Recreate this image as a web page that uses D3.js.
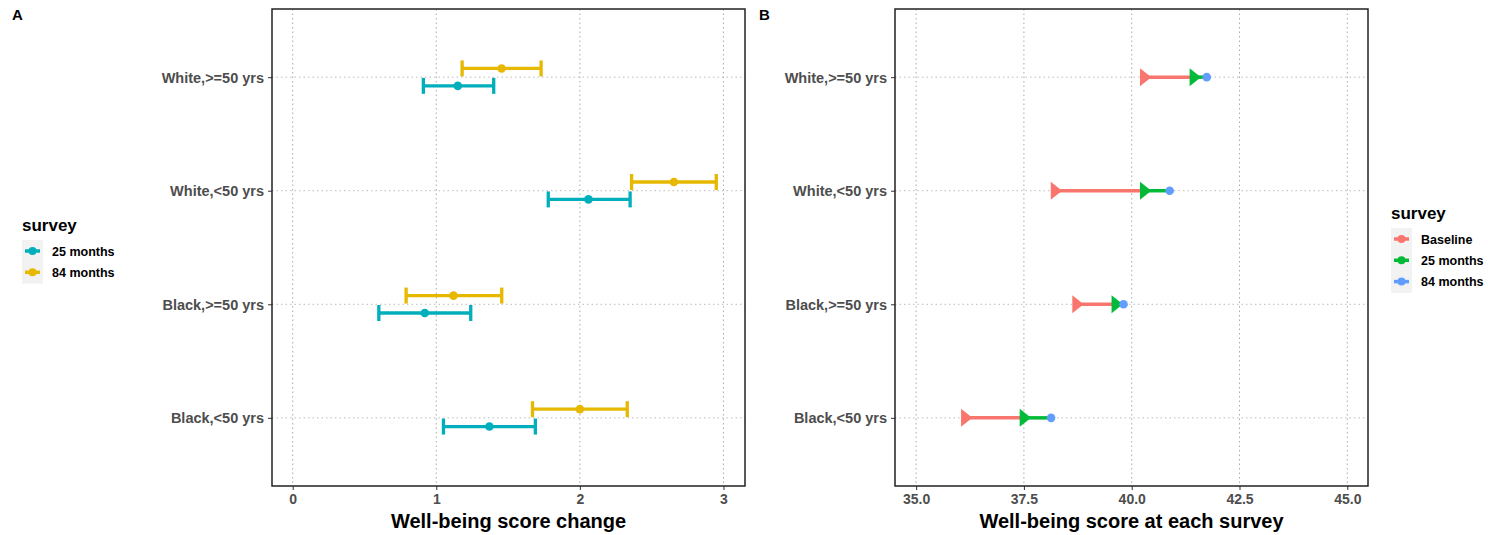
<!DOCTYPE html>
<html>
<head>
<meta charset="utf-8">
<script src="https://cdn.jsdelivr.net/npm/d3@7"></script>
<style>
  body { margin: 0; background: #fff; }
  svg text { font-family: Arial, "Liberation Sans", sans-serif; font-weight: bold; }
  .axis .domain { display: none; }
</style>
</head>
<body>
<div id="container"></div>
<script>
// groups, top to bottom
const groups = ['White,>=50 yrs', 'White,<50 yrs', 'Black,>=50 yrs', 'Black,<50 yrs'];

// panel A: change since baseline (estimate, lower, upper)
const change25 = [1.15, 2.06, 0.92, 1.37];
const change25Lo = [0.91, 1.78, 0.60, 1.05];
const change25Hi = [1.40, 2.35, 1.24, 1.69];
const change84 = [1.455, 2.655, 1.12, 2.00];
const change84Lo = [1.18, 2.36, 0.79, 1.67];
const change84Hi = [1.73, 2.95, 1.456, 2.33];

// panel B: score at each survey
const baseline = [40.28, 38.21, 38.71, 36.13];
const score25 = [41.43, 40.28, 39.62, 37.49];
const score84 = [41.74, 40.88, 39.81, 38.13];

const ticksA = [0, 1, 2, 3];
const ticksB = [35, 37.5, 40, 42.5, 45];

const colA = { m25: '#00AFBB', m84: '#E7B800' };
const colB = ['#F8766D', '#00BA38', '#619CFF'];

const svg = d3.select('#container').append('svg')
    .attr('width', 1488).attr('height', 535);

const plotTop = 9, plotBottom = 486;

// y band: discrete scale with ggplot expansion
const yScale = d3.scalePoint().domain(groups).range([plotTop, plotBottom]).padding(0.6);

function frame(x0, x1, xScale, ticks, fmt, title) {
    const g = svg.append('g');
    // grid
    g.selectAll('.vg').data(ticks).enter().append('line')
        .attr('x1', d => xScale(d)).attr('x2', d => xScale(d))
        .attr('y1', plotTop).attr('y2', plotBottom)
        .attr('stroke', '#aaa').attr('stroke-width', 1).attr('stroke-dasharray', '1.5,3');
    g.selectAll('.hg').data(groups).enter().append('line')
        .attr('x1', x0).attr('x2', x1)
        .attr('y1', d => yScale(d)).attr('y2', d => yScale(d))
        .attr('stroke', '#bbb').attr('stroke-width', 1).attr('stroke-dasharray', '1.5,3');
    // axes
    g.append('g').attr('class', 'axis')
        .attr('transform', 'translate(0,' + plotBottom + ')')
        .call(d3.axisBottom(xScale).tickValues(ticks).tickFormat(fmt).tickSize(4).tickPadding(4))
        .call(a => a.selectAll('text').style('font-size', '14px').attr('fill', '#4d4d4d'))
        .call(a => a.selectAll('line').attr('stroke', '#333'));
    g.append('g').attr('class', 'axis')
        .attr('transform', 'translate(' + x0 + ',0)')
        .call(d3.axisLeft(yScale).tickSize(4).tickPadding(4))
        .call(a => a.selectAll('text').style('font-size', '14.5px').attr('fill', '#4d4d4d').attr('dy', '0.35em'))
        .call(a => a.selectAll('line').attr('stroke', '#333'));
    g.append('text')
        .attr('x', (x0 + x1) / 2).attr('y', 528)
        .attr('text-anchor', 'middle').style('font-size', '20px').attr('fill', '#000')
        .text(title);
    return g;
}

function border(x0, x1) {
    svg.append('rect').attr('x', x0).attr('y', plotTop)
        .attr('width', x1 - x0).attr('height', plotBottom - plotTop)
        .attr('fill', 'none').attr('stroke', '#222').attr('stroke-width', 1.5);
}

// ---------- panel A ----------
const xA = d3.scaleLinear().domain([-0.144, 3.15]).range([272, 745]);
frame(272, 745, xA, ticksA, d3.format('d'), 'Well-being score change');

const rowsA = [];
groups.forEach((g, i) => {
    rowsA.push({ g: g, off: 8.7, est: change25[i], lo: change25Lo[i], hi: change25Hi[i], col: colA.m25 });
    rowsA.push({ g: g, off: -8.7, est: change84[i], lo: change84Lo[i], hi: change84Hi[i], col: colA.m84 });
});
const ebar = svg.append('g').selectAll('g').data(rowsA).enter().append('g');
ebar.append('line')
    .attr('x1', d => xA(d.lo)).attr('x2', d => xA(d.hi))
    .attr('y1', d => yScale(d.g) + d.off).attr('y2', d => yScale(d.g) + d.off)
    .attr('stroke', d => d.col).attr('stroke-width', 3.3);
ebar.append('line')
    .attr('x1', d => xA(d.lo)).attr('x2', d => xA(d.lo))
    .attr('y1', d => yScale(d.g) + d.off - 8).attr('y2', d => yScale(d.g) + d.off + 8)
    .attr('stroke', d => d.col).attr('stroke-width', 3.3);
ebar.append('line')
    .attr('x1', d => xA(d.hi)).attr('x2', d => xA(d.hi))
    .attr('y1', d => yScale(d.g) + d.off - 8).attr('y2', d => yScale(d.g) + d.off + 8)
    .attr('stroke', d => d.col).attr('stroke-width', 3.3);
ebar.append('circle')
    .attr('cx', d => xA(d.est)).attr('cy', d => yScale(d.g) + d.off)
    .attr('r', 4.3).attr('fill', d => d.col);
border(272, 745);

// ---------- panel B ----------
const xB = d3.scaleLinear().domain([34.51, 45.48]).range([895, 1368]);
frame(895, 1368, xB, ticksB, d3.format('.1f'), 'Well-being score at each survey');

const tri = d3.symbol().type(d3.symbolTriangle).size(110);
const rowsB = groups.map((g, i) => ({ g: g, b: baseline[i], m25: score25[i], m84: score84[i] }));
const pb = svg.append('g');
pb.selectAll('.s1').data(rowsB).enter().append('line')
    .attr('x1', d => xB(d.b)).attr('x2', d => xB(d.m25))
    .attr('y1', d => yScale(d.g)).attr('y2', d => yScale(d.g))
    .attr('stroke', colB[0]).attr('stroke-width', 3.5);
pb.selectAll('.s2').data(rowsB).enter().append('line')
    .attr('x1', d => xB(d.m25)).attr('x2', d => xB(d.m84))
    .attr('y1', d => yScale(d.g)).attr('y2', d => yScale(d.g))
    .attr('stroke', colB[1]).attr('stroke-width', 3.5);
pb.selectAll('.t1').data(rowsB).enter().append('path')
    .attr('d', tri)
    .attr('transform', d => 'translate(' + xB(d.b) + ',' + yScale(d.g) + ') rotate(90) scale(1.13,0.82)')
    .attr('fill', colB[0]);
pb.selectAll('.t2').data(rowsB).enter().append('path')
    .attr('d', tri)
    .attr('transform', d => 'translate(' + xB(d.m25) + ',' + yScale(d.g) + ') rotate(90) scale(1.13,0.82)')
    .attr('fill', colB[1]);
pb.selectAll('.c3').data(rowsB).enter().append('circle')
    .attr('cx', d => xB(d.m84)).attr('cy', d => yScale(d.g))
    .attr('r', 4.3).attr('fill', colB[2]);
border(895, 1368);

// ---------- panel tags ----------
svg.append('text').attr('x', 12).attr('y', 20).style('font-size', '15px').text('A');
svg.append('text').attr('x', 759).attr('y', 20).style('font-size', '15px').text('B');

// ---------- legends ----------
function legend(x, y, labels, colors) {
    const g = svg.append('g').attr('transform', 'translate(' + x + ',' + y + ')');
    g.append('text').attr('x', 0).attr('y', 0).style('font-size', '17px').text('survey');
    g.append('rect').attr('x', 0).attr('y', 9).attr('width', 21).attr('height', labels.length * 21.3 + 1)
        .attr('fill', '#f2f2f2');
    labels.forEach((lab, i) => {
        const yy = 20 + i * 21.3;
        g.append('line').attr('x1', 3).attr('x2', 18).attr('y1', yy).attr('y2', yy)
            .attr('stroke', colors[i]).attr('stroke-width', 3.5);
        g.append('circle').attr('cx', 10.5).attr('cy', yy).attr('r', 4).attr('fill', colors[i]);
        g.append('text').attr('x', 30).attr('y', yy + 4.5).style('font-size', '12.5px').text(lab);
    });
}
legend(22, 231, ['25 months', '84 months'], [colA.m25, colA.m84]);
legend(1391, 219, ['Baseline', '25 months', '84 months'], colB);
</script>
</body>
</html>
